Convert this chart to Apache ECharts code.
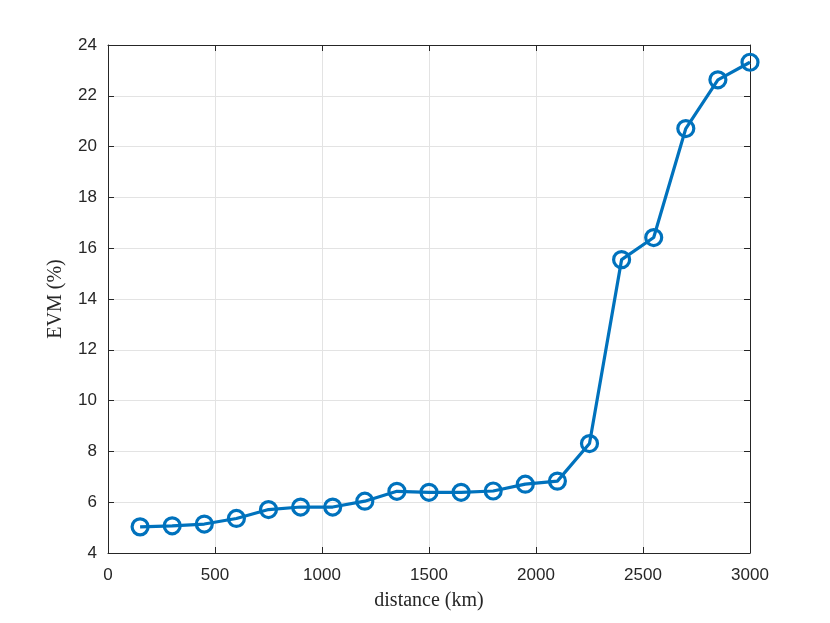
<!DOCTYPE html>
<html>
<head>
<meta charset="utf-8">
<script src="https://cdn.jsdelivr.net/npm/echarts@6/dist/echarts.min.js"></script>
<style>html,body{margin:0;padding:0;background:#fff;}#chart{width:830px;height:623px;}</style>
</head>
<body>
<div id="chart"></div>
<script>
const distance = [150, 300, 450, 600, 750, 900, 1050, 1200, 1350, 1500, 1650, 1800, 1950, 2100, 2250, 2400, 2550, 2700, 2850, 3000];
const evm = [5.03, 5.07, 5.14, 5.36, 5.71, 5.81, 5.81, 6.04, 6.43, 6.39, 6.39, 6.44, 6.71, 6.83, 8.31, 15.55, 16.42, 20.71, 22.63, 23.32];
const xTicks = [0, 500, 1000, 1500, 2000, 2500, 3000];
const yTicks = [4, 6, 8, 10, 12, 14, 16, 18, 20, 22, 24];

const chart = echarts.init(document.getElementById('chart'), null, {renderer: 'canvas'});
const axisColor = '#262626';
const tickFont = {color: axisColor, fontSize: 17, fontFamily: 'Liberation Sans, Arial, sans-serif', formatter: v => String(v)};
const nameFont = {color: axisColor, fontSize: 20, fontFamily: 'Liberation Serif, DejaVu Serif, serif'};
const baseAxis = {
  axisLine: {show: true, onZero: false, lineStyle: {color: axisColor, width: 1}},
  axisTick: {show: true, inside: true, length: 6, lineStyle: {color: axisColor, width: 1}},
};
const option = {
  animation: false,
  backgroundColor: '#fff',
  grid: {left: 108, right: 80, top: 45, bottom: 70},
  xAxis: [
    Object.assign({}, baseAxis, {
      type: 'value', min: xTicks[0], max: xTicks[xTicks.length - 1], interval: 500,
      position: 'bottom',
      name: 'distance (km)', nameLocation: 'middle', nameGap: 38,
      nameTextStyle: nameFont,
      axisLabel: Object.assign({margin: 14}, tickFont),
      splitLine: {show: true, lineStyle: {color: '#e3e3e3', width: 1}}
    }),
    Object.assign({}, baseAxis, {
      type: 'value', min: xTicks[0], max: xTicks[xTicks.length - 1], interval: 500,
      position: 'top', axisLabel: {show: false}, splitLine: {show: false}
    })
  ],
  yAxis: [
    Object.assign({}, baseAxis, {
      type: 'value', min: yTicks[0], max: yTicks[yTicks.length - 1], interval: 2,
      position: 'left',
      name: 'EVM (%)', nameLocation: 'middle', nameGap: 42,
      nameTextStyle: nameFont,
      axisLabel: Object.assign({margin: 11}, tickFont),
      splitLine: {show: true, lineStyle: {color: '#e3e3e3', width: 1}}
    }),
    Object.assign({}, baseAxis, {
      type: 'value', min: yTicks[0], max: yTicks[yTicks.length - 1], interval: 2,
      position: 'right', axisLabel: {show: false}, splitLine: {show: false}
    })
  ],
  series: [{
    type: 'line',
    data: distance.map((d, i) => [d, evm[i]]),
    xAxisIndex: 0, yAxisIndex: 0,
    symbol: 'circle', symbolSize: 16,
    lineStyle: {color: '#0072BD', width: 3.2},
    itemStyle: {color: 'rgba(0,0,0,0)', borderColor: '#0072BD', borderWidth: 3.2},
    clip: false
  }]
};
chart.setOption(option);
</script>
</body>
</html>
